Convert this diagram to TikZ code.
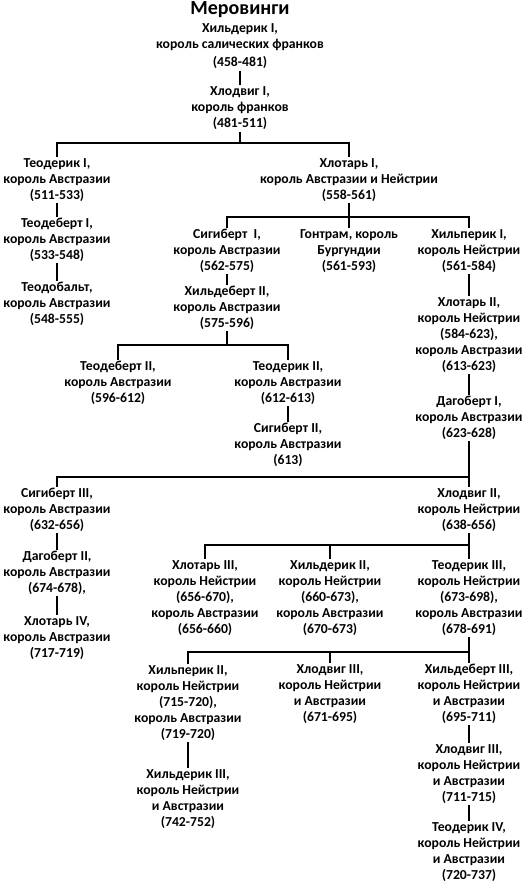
\documentclass[tikz,border=0pt]{standalone}
\usepackage{fontspec}
\setmainfont{Carlito}
\begin{document}
\begin{tikzpicture}[x=1pt,y=-1pt,
  person/.style={align=center,inner sep=1.5pt,font=\fontsize{13.7}{16}\selectfont\bfseries},
  conn/.style={line width=1.4pt},
  thin/.style={line width=1.1pt},
  thick/.style={line width=2.6pt}]
\useasboundingbox[fill=white] (0,0) rectangle (525,886);
\node[font=\fontsize{20}{24}\selectfont\bfseries] (title) at (240,9.5) {Меровинги};
\node[person] (hildI) at (240,46.5) {Хильдерик I,\\король салических франков\\[2pt](458-481)};
\node[person] (chlodI) at (240,108.5) {Хлодвиг I,\\король франков\\(481-511)};
\node[person] (theoI) at (57,180) {Теодерик I,\\король Австразии\\(511-533)};
\node[person] (theodebI) at (57,240) {Теодеберт I,\\король Австразии\\(533-548)};
\node[person] (theodob) at (57,304) {Теодобальт,\\король Австразии\\(548-555)};
\node[person] (chlothI) at (349,180) {Хлотарь I,\\король Австразии и Нейстрии\\(558-561)};
\node[person] (sigI) at (227,251) {Сигиберт~~I,\\король Австразии\\(562-575)};
\node[person] (gontram) at (349,251) {Гонтрам, король\\Бургундии\\(561-593)};
\node[person] (chilpI) at (469,251) {Хильперик I,\\король Нейстрии\\(561-584)};
\node[person] (childebII) at (227,308) {Хильдеберт II,\\король Австразии\\(575-596)};
\node[person] (chlothII) at (469,335) {Хлотарь II,\\король Нейстрии\\(584-623),\\король Австразии\\(613-623)};
\node[person] (dagI) at (469,418) {Дагоберт I,\\король Австразии\\(623-628)};
\node[person] (theodebII) at (118,383) {Теодеберт II,\\король Австразии\\(596-612)};
\node[person] (theoII) at (288,383) {Теодерик II,\\король Австразии\\(612-613)};
\node[person] (sigII) at (288,445) {Сигиберт II,\\король Австразии\\(613)};
\node[person] (sigIII) at (57,510) {Сигиберт III,\\король Австразии\\(632-656)};
\node[person] (dagII) at (57,573) {Дагоберт II,\\король Австразии\\(674-678),};
\node[person] (chlothIV) at (57,638) {Хлотарь IV,\\король Австразии\\(717-719)};
\node[person] (chlodII) at (469,510) {Хлодвиг II,\\король Нейстрии\\(638-656)};
\node[person] (chlothIII) at (205,598) {Хлотарь III,\\король Нейстрии\\(656-670),\\король Австразии\\(656-660)};
\node[person] (childII) at (330,598) {Хильдерик II,\\король Нейстрии\\(660-673),\\король Австразии\\(670-673)};
\node[person] (theoIII) at (469,598) {Теодерик III,\\король Нейстрии\\(673-698),\\король Австразии\\(678-691)};
\node[person] (chilpII) at (188,703) {Хильперик II,\\король Нейстрии\\(715-720),\\король Австразии\\(719-720)};
\node[person] (chlodIIIa) at (330,694) {Хлодвиг III,\\король Нейстрии\\и Австразии\\(671-695)};
\node[person] (childebIII) at (469,694) {Хильдеберт III,\\король Нейстрии\\и Австразии\\(695-711)};
\node[person] (childIII) at (188,799) {Хильдерик III,\\король Нейстрии\\и Австразии\\(742-752)};
\node[person] (chlodIIIb) at (469,774) {Хлодвиг III,\\король Нейстрии\\и Австразии\\(711-715)};
\node[person] (theoIV) at (469,852) {Теодерик IV,\\король Нейстрии\\и Австразии\\(720-737)};
% bars
\coordinate (b1) at (240,143);
\coordinate (b2) at (349,217);
\coordinate (b3) at (227,345);
\coordinate (b4) at (469,477);
\coordinate (b5) at (469,545);
\coordinate (b6) at (469,652);
% connectors
\draw[conn] (hildI.south) -- (chlodI.north);
\draw[conn] (chlodI.south) -- (b1);
\draw[conn] (theoI.north) |- (b1) -| (chlothI.north);
\draw[thin] (theoI.south) -- (theodebI.north);
\draw[thin] (theodebI.south) -- (theodob.north);
\draw[conn] (chlothI.south) -- (gontram.north);
\draw[conn] (sigI.north) |- (b2) -| (chilpI.north);
\draw[thin] (sigI.south) -- (childebII.north);
\draw[conn] (childebII.south) -- (b3);
\draw[conn] (theodebII.north) |- (b3) -| (theoII.north);
\draw[line width=2pt] (chilpI.south) -- (chlothII.north);
\draw[conn] (chlothII.south) -- (dagI.north);
\draw[thin] (theoII.south) -- (sigII.north);
\draw[conn] (dagI.south) -- (b4);
\draw[conn] (sigIII.north) |- (b4) -- (chlodII.north);
\draw[thin] (sigIII.south) -- (dagII.north);
\draw[thin] (dagII.south) -- (chlothIV.north);
\draw[conn] (chlodII.south) -- (theoIII.north);
\draw[conn] (chlothIII.north) |- (b5);
\draw[conn] (childII.north) -- (childII.north |- b5);
\draw[conn] (theoIII.south) -- (childebIII.north);
\draw[conn] (chilpII.north) |- (b6);
\draw[conn] (chlodIIIa.north) -- (chlodIIIa.north |- b6);
\draw[thick] (chilpII.south) -- (childIII.north);
\draw[thin] (childebIII.south) -- (chlodIIIb.north);
\draw[thin] (chlodIIIb.south) -- (theoIV.north);
\end{tikzpicture}
\end{document}
